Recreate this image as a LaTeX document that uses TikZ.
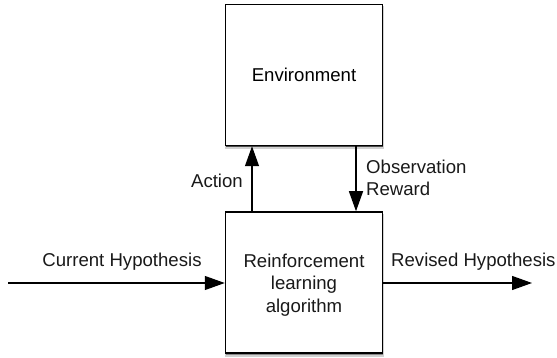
\documentclass[tikz,border=0pt]{standalone}
\usepackage{fontspec}
\setmainfont{Liberation Sans}
\usetikzlibrary{arrows.meta,shadows}

\tikzset{
  softshadow/.style={
    general shadow={shadow xshift=0.6pt, shadow yshift=-2.6pt, shadow scale=1.014, fill=black, opacity=0.18},
    general shadow={shadow xshift=0.4pt, shadow yshift=-1.9pt, fill=black, opacity=0.35},
    general shadow={shadow xshift=0.2pt, shadow yshift=-1.2pt, fill=black, opacity=0.45}
  },
  blockbox/.style={draw=black, line width=1.5pt, fill=white, softshadow,
    minimum width=157pt, minimum height=141pt, align=center, inner sep=0pt},
  flow/.style={draw=black, line width=1.3pt, -{Triangle[length=20pt,width=14pt]}},
  lbl/.style={inner sep=0pt, text=black!90}
}

\begin{document}
\begin{tikzpicture}[x=1pt, y=-1pt,
  every node/.append style={font=\fontsize{18.6pt}{22.5pt}\selectfont}]
  \useasboundingbox (0,0) rectangle (557,358);

  % the two blocks
  \node[blockbox] (env) at (304,75) {Environment};
  \node[blockbox] (rl)  at (304,282.5) {};
  \node[lbl, align=center] (rltext) at (304,285) {Reinforcement\\learning\\algorithm};

  % loop between agent and environment
  \draw[flow] ([xshift=-52pt]rl.north) -- ([xshift=-52pt]env.south);
  \draw[flow] ([xshift=52pt]env.south) -- ([xshift=52pt]rl.north);

  % hypothesis in and out
  \coordinate (hin) at (8,283);
  \coordinate (hout) at (532,283);
  \draw[flow] (hin) -- (rl.west |- hin);
  \draw[flow] (rl.east |- hout) -- (hout);

  % labels
  \node[lbl, anchor=east] (act) at (243,181) {Action};
  \node[lbl, anchor=west, align=left] (obs) at (366,178) {Observation\\Reward};
  \node[lbl] (cur) at (122,262) {Current Hypothesis};
  \node[lbl, anchor=west] (rev) at (391,262) {Revised Hypothesis};
\end{tikzpicture}
\end{document}
